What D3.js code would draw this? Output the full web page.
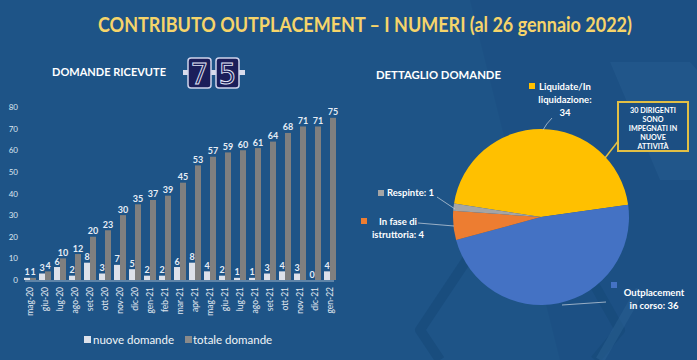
<!DOCTYPE html>
<html><head><meta charset="utf-8">
<script src="https://cdn.jsdelivr.net/npm/d3@7"></script>
<style>
html,body{margin:0;padding:0;background:#1e5487;}
svg{display:block;font-family:Lato,"Open Sans",sans-serif;}
</style></head>
<body>
<svg id="c" width="697" height="360"></svg>
<script>
const months = ["mag-20","giu-20","lug-20","ago-20","set-20","ott-20","nov-20","dic-20","gen-21","feb-21","mar-21","apr-21","mag-21","giu-21","lug-21","ago-21","set-21","ott-21","nov-21","dic-21","gen-22"];
const nuove  = [1,3,6,2,8,3,7,5,2,2,6,8,4,2,1,1,3,4,3,0,4];
const totale = [1,4,10,12,20,23,30,35,37,39,45,53,57,59,60,61,64,68,71,71,75];
const yTicks = [0,10,20,30,40,50,60,70,80];
const seriesNames = ["nuove domande","totale domande"];
const pieLabels = ["Liquidate/In liquidazione","Outplacement in corso","In fase di istruttoria","Respinte"];
const pieValues = [34,36,4,1];
const totalReceived = "75";

const svg = d3.select("#c");
const W = 697, H = 360;

// background
svg.append("rect").attr("width",W).attr("height",H).attr("fill","#1e5487");
const deco = svg.append("g");
deco.append("path").attr("d","M470,0 L697,0 L697,360 L560,360 Z").attr("fill","#1b4f82").attr("opacity",0.6);
deco.append("path").attr("d","M610,62 L690,62 L697,70 L697,180 L660,180 Z").attr("fill","#2a6096").attr("opacity",0.35);
deco.append("path").attr("d","M520,215 L555,215 L620,330 L595,360").attr("fill","none").attr("stroke","#174a7a").attr("stroke-width",10).attr("stroke-linejoin","round").attr("opacity",0.7);
deco.append("path").attr("d","M470,255 L420,330 L440,360").attr("fill","none").attr("stroke","#174a7a").attr("stroke-width",10).attr("stroke-linejoin","round").attr("opacity",0.7);
deco.append("path").attr("d","M640,290 L600,360").attr("fill","none").attr("stroke","#2a5f92").attr("stroke-width",9).attr("opacity",0.5);

// title
svg.append("text").attr("x",365).attr("y",32).attr("text-anchor","middle")
  .attr("font-size",20).attr("font-weight","bold").attr("fill","#f6d46a")
  .attr("textLength",534).attr("lengthAdjust","spacingAndGlyphs")
  .text("CONTRIBUTO OUTPLACEMENT – I NUMERI (al 26 gennaio 2022)");

svg.append("text").attr("x",52).attr("y",76).attr("font-size",11.5).attr("font-weight","bold")
  .attr("fill","#ffffff").attr("textLength",114).attr("lengthAdjust","spacingAndGlyphs").text("DOMANDE RICEVUTE");
svg.append("text").attr("x",376).attr("y",79).attr("font-size",11.5).attr("font-weight","bold")
  .attr("fill","#ffffff").attr("textLength",125).attr("lengthAdjust","spacingAndGlyphs").text("DETTAGLIO DOMANDE");

// counter
const digits = totalReceived.split("");
const cg = svg.append("g");
[[183,189],[211,217],[239,245]].forEach(t=>{
  cg.append("rect").attr("x",t[0]).attr("y",70).attr("width",t[1]-t[0]).attr("height",5).attr("fill","#d9dcec");
});
digits.forEach((d,i)=>{
  const x0 = 188 + i*28;
  cg.append("rect").attr("x",x0).attr("y",58).attr("width",23).attr("height",30).attr("rx",3)
    .attr("fill","#1b1e5a").attr("stroke","#cfd3ec").attr("stroke-width",1.5);
  cg.append("text").attr("x",x0+11.5).attr("y",84).attr("text-anchor","middle")
    .attr("font-family","DejaVu Sans Mono, monospace").attr("font-size",29)
    .attr("fill","#1b1e5a").attr("stroke","#e4e7f7").attr("stroke-width",0.9).text(d);
});

// bar chart
const x = d3.scaleBand().domain(months).range([22.5,337.5]).paddingInner(0.2).paddingOuter(0.1);
const y = d3.scaleLinear().domain([0,80]).range([280,107]);
const xs = d3.scaleBand().domain(seriesNames).range([0,x.bandwidth()]).padding(0);

const yAxis = svg.append("g").attr("transform","translate(18,0)")
  .call(d3.axisLeft(y).tickValues(yTicks).tickSize(0).tickPadding(0));
yAxis.select(".domain").remove();
yAxis.selectAll("text").attr("fill","#dde6f0").attr("font-size",8).attr("font-family","Lato,sans-serif");

const colors = ["#dde1ea","#7f7f7f"];
const groups = svg.append("g").selectAll("g").data(months).join("g")
  .attr("transform",d=>`translate(${x(d)},0)`);
groups.each(function(m,i){
  const g = d3.select(this);
  const vals = [nuove[i], totale[i]];
  vals.forEach((v,j)=>{
    g.append("rect").attr("x",xs(seriesNames[j])).attr("width",xs.bandwidth())
      .attr("y",y(v)).attr("height",y(0)-y(v)).attr("fill",colors[j]);
    g.append("text").attr("x",xs(seriesNames[j])+xs.bandwidth()/2).attr("y",y(v)-2.5)
      .attr("text-anchor","middle").attr("font-size",9).attr("font-weight","bold")
      .attr("fill","#e6edf6").text(v);
  });
});

const xAxis = svg.append("g").attr("transform","translate(0,281)")
  .call(d3.axisBottom(x).tickSize(0).tickPadding(0));
xAxis.select(".domain").attr("stroke","#9fb3c8").attr("stroke-width",1.2).attr("d","M25,0H334");
xAxis.selectAll("text").attr("fill","#e3e9f1").attr("font-size",8.5).attr("font-family","Lato,sans-serif")
  .attr("transform","rotate(-90)").attr("text-anchor","end").attr("x",-6).attr("y",0).attr("dy","0.35em");

// legend
const leg = svg.append("g");
[[84,93],[185,193]].forEach((p,j)=>{
  leg.append("rect").attr("x",p[0]).attr("y",336).attr("width",7).attr("height",7).attr("fill",j===1?"#8a8a8a":colors[j]);
  leg.append("text").attr("x",p[1]).attr("y",344).attr("font-size",11.5).attr("fill","#f0f4f8").text(seriesNames[j]);
});

// pie
const cx = 541, cy = 217, R = 88;
const pieColors = ["#ffc000","#4472c4","#ed7d31","#a5a5a5"];
const startA = (82 - 163.2) * Math.PI/180;
const pie = d3.pie().sort(null).startAngle(startA).endAngle(startA + 2*Math.PI);
const arcs = pie(pieValues);
const arc = d3.arc().innerRadius(0).outerRadius(R);
const pg = svg.append("g").attr("transform",`translate(${cx},${cy})`);
pg.selectAll("path").data(arcs).join("path").attr("d",arc).attr("fill",(d,i)=>pieColors[i]);

// pie labels
const lab = svg.append("g").attr("font-weight","bold").attr("font-size",9.5).attr("fill","#ffffff");
function labelBlock(lines, cxT, y0, sqx, sqy, col){
  lines.forEach((l,k)=>lab.append("text").attr("x",cxT).attr("y",y0+k*13).attr("text-anchor","middle").text(l));
  lab.append("rect").attr("x",sqx).attr("y",sqy).attr("width",6).attr("height",6).attr("fill",col);
}
const leader = (d)=>svg.append("path").attr("d",d).attr("fill","none").attr("stroke","#b9c6d6").attr("stroke-width",0.8);

labelBlock(["Liquidate/In","liquidazione:", String(pieValues[0])], 565, 90, 529, 83, pieColors[0]);
leader("M552,118 Q546,124 543,130");
labelBlock(["Outplacement","in corso: "+pieValues[1]], 654, 296, 611, 282, pieColors[1]);
leader("M606,302 L562,305");
labelBlock(["In fase di","istruttoria: "+pieValues[2]], 398, 225, 361, 218, pieColors[2]);
leader("M418,223 L454,226");
lab.append("text").attr("x",387).attr("y",196).text("Respinte: "+pieValues[3]);
lab.append("rect").attr("x",378).attr("y",190).attr("width",6).attr("height",6).attr("fill",pieColors[3]);
leader("M437,197 L455,209");

// callout
const cb = svg.append("g");
cb.append("path").attr("d","M619,140 L605,158").attr("stroke","#e2bf45").attr("stroke-width",1.5);
cb.append("rect").attr("x",618).attr("y",102).attr("width",70).attr("height",49)
  .attr("fill","#1c4f83").attr("stroke","#e2bf45").attr("stroke-width",2);
["30 DIRIGENTI","SONO","IMPEGNATI IN","NUOVE","ATTIVITÀ"].forEach((t,k)=>{
  cb.append("text").attr("x",653).attr("y",112.5+k*9).attr("text-anchor","middle")
    .attr("font-size",7.2).attr("font-weight","bold").attr("fill","#ffffff").text(t);
});
</script>
</body></html>
